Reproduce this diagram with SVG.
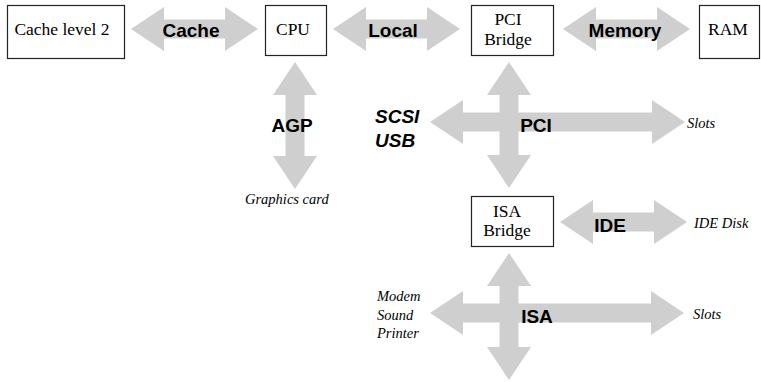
<svg xmlns="http://www.w3.org/2000/svg" width="761" height="382" viewBox="0 0 761 382">
<style>
.box{fill:#fff;stroke:#222;stroke-width:1.2}
.bus{fill:#cfcfcf;stroke:none}
.nt{font-family:"Liberation Serif",serif;font-size:17.5px;fill:#000;text-anchor:middle}
.bl{font-family:"Liberation Sans",Arial,sans-serif;font-size:19px;font-weight:bold;fill:#000;text-anchor:middle}
.bi{font-family:"Liberation Sans",Arial,sans-serif;font-size:19px;font-weight:bold;font-style:italic;fill:#000}
.it{font-family:"Liberation Serif",serif;font-size:14.5px;font-style:italic;fill:#000}
</style>
<rect width="761" height="382" fill="#fff"/>
<g id="connectors">
<g id="bus-cache"><path class="bus" d="M131,29 L164,7 L164,19.5 L225,19.5 L225,7 L258,29 L225,51 L225,38.5 L164,38.5 L164,51 Z"/><text class="bl" x="191" y="37">Cache</text></g>
<g id="bus-local"><path class="bus" d="M333,29 L366,7 L366,19.5 L427,19.5 L427,7 L460,29 L427,51 L427,38.5 L366,38.5 L366,51 Z"/><text class="bl" x="393" y="37">Local</text></g>
<g id="bus-memory"><path class="bus" d="M563,29 L596,7 L596,19.5 L657,19.5 L657,7 L690,29 L657,51 L657,38.5 L596,38.5 L596,51 Z"/><text class="bl" x="625" y="37">Memory</text></g>
<g id="bus-agp"><path class="bus" d="M295,62 L317,95 L304.5,95 L304.5,156 L317,156 L295,189 L273,156 L285.5,156 L285.5,95 L273,95 Z"/><text class="bl" x="292" y="132">AGP</text></g>
<g id="bus-pci"><path class="bus" d="M509,62 L531,95 L518.5,95 L518.5,155 L531,155 L509,188 L487,155 L499.5,155 L499.5,95 L487,95 Z"/><path class="bus" d="M430,122 L463,100 L463,112.5 L652,112.5 L652,100 L685,122 L652,144 L652,131.5 L463,131.5 L463,144 Z"/><text class="bl" x="536" y="132">PCI</text></g>
<g id="bus-ide"><path class="bus" d="M560,222 L593,200 L593,212.5 L654,212.5 L654,200 L687,222 L654,244 L654,231.5 L593,231.5 L593,244 Z"/><text class="bl" x="610" y="232">IDE</text></g>
<g id="bus-isa"><path class="bus" d="M509,253 L531,286 L518.5,286 L518.5,347 L531,347 L509,380 L487,347 L499.5,347 L499.5,286 L487,286 Z"/><path class="bus" d="M430,313 L463,291 L463,303.5 L651,303.5 L651,291 L684,313 L651,335 L651,322.5 L463,322.5 L463,335 Z"/><text class="bl" x="537" y="323">ISA</text></g>
</g>
<g id="node-cache"><rect class="box" x="7.5" y="5.5" width="117" height="53"/><text class="nt" x="62" y="35">Cache level 2</text></g>
<g id="node-cpu"><rect class="box" x="265.5" y="5.5" width="61" height="50"/><text class="nt" x="293" y="35">CPU</text></g>
<g id="node-pci"><rect class="box" x="471.5" y="5.5" width="82" height="50"/><text class="nt" x="508" y="25">PCI</text><text class="nt" x="508" y="44.5">Bridge</text></g>
<g id="node-ram"><rect class="box" x="699.5" y="5.5" width="60" height="53"/><text class="nt" x="728" y="35">RAM</text></g>
<g id="node-isa"><rect class="box" x="471.5" y="196.5" width="82" height="50"/><text class="nt" x="507" y="216.5">ISA</text><text class="nt" x="507" y="236">Bridge</text></g>
<g id="labels">
<text class="bi" x="375" y="123">SCSI</text>
<text class="bi" x="375" y="147">USB</text>
<text class="it" x="245" y="204">Graphics card</text>
<text class="it" x="687" y="128">Slots</text>
<text class="it" x="694" y="228">IDE Disk</text>
<text class="it" x="377" y="301">Modem</text>
<text class="it" x="377" y="320">Sound</text>
<text class="it" x="377" y="338">Printer</text>
<text class="it" x="693" y="319">Slots</text>
</g>
</svg>
